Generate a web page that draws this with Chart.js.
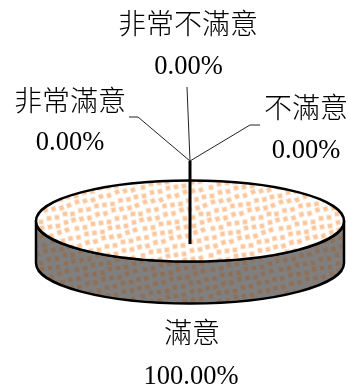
<!DOCTYPE html>
<html>
<head>
<meta charset="utf-8">
<style>
  html, body { margin: 0; padding: 0; background: #fff; }
  #wrap { position: relative; width: 348px; height: 388px; }
</style>
<script src="https://cdn.jsdelivr.net/npm/chart.js@4/dist/chart.umd.min.js"></script>
</head>
<body>
<div id="wrap"><canvas id="pie" width="348" height="388"></canvas></div>
<script>
const categories = ["滿意", "不滿意", "非常不滿意", "非常滿意"];
const shares = [100, 0, 0, 0];

const SQUASH = 40.5 / 154;
const DEPTH = 42;
const CJK_FONT = '300 28px "Noto Sans CJK TC", "Noto Sans CJK JP"';
const NUM_FONT = '26.5px "Liberation Serif", serif';

// label anchors + leader lines, in the same order as categories
const labelSpots = [
  { nameX: 192, pctX: 191, nameY: 343, pctY: 384 },
  { nameX: 306, pctX: 306, nameY: 118, pctY: 158, leader: [[260, 125], [250, 125], [190, 161]] },
  { nameX: 188, pctX: 188.5, nameY: 34, pctY: 74, leader: [[187, 87], [190, 161]] },
  { nameX: 70, pctX: 70, nameY: 111, pctY: 150, leader: [[129, 117], [138, 117], [190, 161]] }
];

// 68px is the repeat of the (8,-2) / (2,8) dot lattice
function dotTile(core, halo, back, yStretch) {
  const tile = document.createElement("canvas");
  tile.width = 68;
  tile.height = 68;
  const g = tile.getContext("2d");
  g.fillStyle = back;
  g.fillRect(0, 0, 68, 68);
  for (let i = -10; i < 20; i++) {
    for (let j = -10; j < 20; j++) {
      const px = i * 8 + j * 2;
      const py = j * 8 - i * 2;
      // keyed on the wrapped position so the tile still repeats cleanly
      const mx = ((px % 68) + 68) % 68;
      const my = ((py % 68) + 68) % 68;
      const jx = ((mx * 7 + my * 13) % 5) - 2;
      const jy = ((mx * 11 + my * 3) % 5) - 2;
      g.save();
      g.translate(px + jx * 0.5, py + jy * 0.5);
      g.rotate(-0.24 + jx * 0.08);
      g.fillStyle = halo;
      g.fillRect(-2.7, -2.7, 5.4, 5.4);
      g.fillStyle = core;
      g.fillRect(-1.9, -1.9, 3.8, 3.8);
      g.restore();
    }
  }
  const pattern = g.createPattern(tile, "repeat");
  if (yStretch) pattern.setTransform(new DOMMatrix().scale(1, yStretch));
  return pattern;
}

function mainArc(chart) {
  return chart.getDatasetMeta(0).data[0];
}

const pie3d = {
  id: "pie3d",
  beforeDatasetsDraw(chart) {
    const ctx = chart.ctx;
    const arc = mainArc(chart);
    const rx = arc.outerRadius;
    const ry = rx * SQUASH;

    // wall under the top face
    ctx.save();
    ctx.beginPath();
    ctx.ellipse(arc.x, arc.y, rx, ry, 0, Math.PI, 0, true);
    ctx.lineTo(arc.x + rx, arc.y + DEPTH);
    ctx.ellipse(arc.x, arc.y + DEPTH, rx, ry, 0, 0, Math.PI, false);
    ctx.closePath();
    ctx.fillStyle = dotTile("#8f6f57", "#867a70", "#808080");
    ctx.fill();
    ctx.lineWidth = 2.5;
    ctx.strokeStyle = "#000";
    ctx.lineJoin = "round";
    ctx.stroke();
    ctx.restore();

    // the library draws the top face inside this squashed space
    ctx.save();
    ctx.translate(arc.x, arc.y);
    ctx.scale(1, SQUASH);
    ctx.translate(-arc.x, -arc.y);
  },
  afterDatasetsDraw(chart) {
    const ctx = chart.ctx;
    ctx.restore();
    const arc = mainArc(chart);

    ctx.save();
    ctx.beginPath();
    ctx.ellipse(arc.x, arc.y, arc.outerRadius, arc.outerRadius * SQUASH, 0, 0, Math.PI * 2);
    ctx.lineWidth = 2.5;
    ctx.strokeStyle = "#000";
    ctx.stroke();

    // the empty slices collapse to one thick wall at twelve o'clock
    ctx.beginPath();
    ctx.moveTo(arc.x, 161);
    ctx.lineTo(arc.x, 244);
    ctx.lineWidth = 3;
    ctx.stroke();

    ctx.lineWidth = 1;
    ctx.strokeStyle = "#222";
    labelSpots.forEach((spot) => {
      if (!spot.leader) return;
      ctx.beginPath();
      spot.leader.forEach(([x, y], idx) => (idx ? ctx.lineTo(x, y) : ctx.moveTo(x, y)));
      ctx.stroke();
    });

    ctx.fillStyle = "#000";
    ctx.textAlign = "center";
    ctx.textBaseline = "alphabetic";
    categories.forEach((name, idx) => {
      const spot = labelSpots[idx];
      ctx.font = CJK_FONT;
      ctx.fillText(name, spot.nameX, spot.nameY);
      ctx.font = NUM_FONT;
      ctx.fillText(shares[idx].toFixed(2) + "%", spot.pctX, spot.pctY);
    });
    ctx.restore();
  }
};

new Chart(document.getElementById("pie"), {
  type: "pie",
  data: {
    labels: categories,
    datasets: [
      {
        data: shares,
        backgroundColor: dotTile("#fcc79c", "#fde6d2", "#ffffff", 1 / SQUASH),
        borderWidth: 0
      }
    ]
  },
  options: {
    responsive: false,
    animation: false,
    layout: { padding: { left: 36, right: 4, top: 67, bottom: 13 } },
    plugins: { legend: { display: false }, tooltip: { enabled: false } }
  },
  plugins: [pie3d]
});
</script>
</body>
</html>
